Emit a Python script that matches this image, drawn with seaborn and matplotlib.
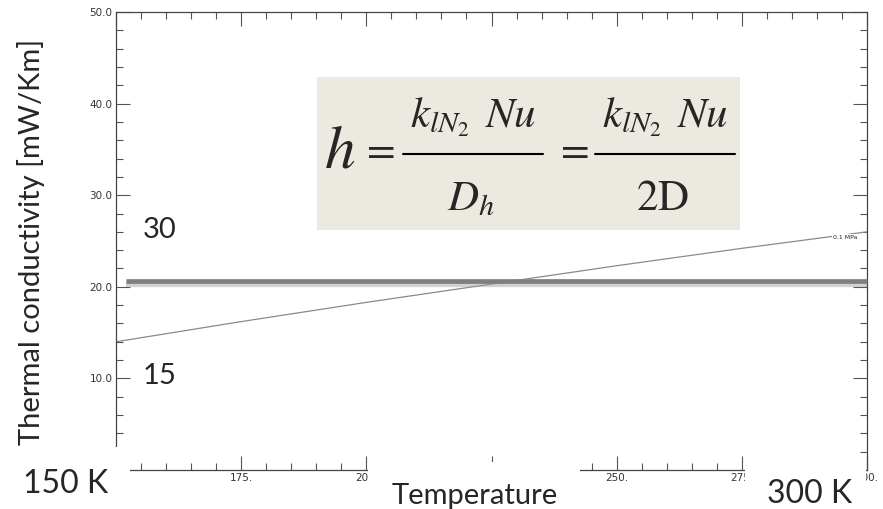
import matplotlib
matplotlib.use('Agg')
import matplotlib.pyplot as plt
import matplotlib.patheffects as pe
from matplotlib.patches import Rectangle
from matplotlib.lines import Line2D
from matplotlib.ticker import MultipleLocator, FuncFormatter
import seaborn as sns

# values (N2 gas at 0.1 MPa)
temperature_k = [150, 175, 200, 225, 250, 275, 300]
conductivity = [14.0, 16.2, 18.3, 20.3, 22.3, 24.2, 26.0]
series_label = '0.1 MPa'

# thick grey marker line across the plot
marker_level = 20.6
marker_span = [152, 300]

# slide annotations
label_30 = '30'
label_15 = '15'
label_tmin = '150 K'
label_tmax = '300 K'
x_title = 'Temperature'
y_title = 'Thermal conductivity [mW/Km]'
# h = k Nu / D_h = k Nu / 2D, drawn piece by piece like the slide's equation
eq_lhs = r'$h$'
eq_num = r'$k_{lN_{2}}\;\,Nu$'
eq_den1 = r'$D_h$'
eq_den2 = r'$2\mathrm{D}$'

W, H = 883, 509


def fx(px):
    return px / W


def fy(py):
    return 1 - py / H


sns.set_theme(style='ticks')
plt.rcParams['font.family'] = ['Lato', 'DejaVu Sans']
plt.rcParams['mathtext.fontset'] = 'stix'

fig = plt.figure(figsize=(W / 100, H / 100), dpi=100)
ax = fig.add_axes([fx(116), fy(470), fx(867) - fx(116), fy(12) - fy(470)])

sns.lineplot(x=temperature_k, y=conductivity, ax=ax, color='#8a8a8a', linewidth=0.9)
ax.text(295.6, 25.4, series_label, fontsize=4.5, family='DejaVu Sans', color='#222',
        ha='center', va='center',
        bbox=dict(facecolor='white', edgecolor='none', pad=0.3))

ax.plot(marker_span, [marker_level, marker_level], color='#7f7f7f', linewidth=3.4,
        solid_capstyle='butt', clip_on=False, zorder=4,
        path_effects=[pe.SimpleLineShadow(offset=(0, -2.2), shadow_color='#9a9a9a',
                                          alpha=0.45, linewidth=4.5),
                      pe.Normal()])

ax.set_xlim(150, 300)
ax.set_ylim(0, 50)
ax.xaxis.set_major_locator(MultipleLocator(25))
ax.xaxis.set_minor_locator(MultipleLocator(5))
ax.yaxis.set_major_locator(MultipleLocator(10))
ax.yaxis.set_minor_locator(MultipleLocator(2))
# the first labels of each axis sit under the slide's white text boxes
ax.xaxis.set_major_formatter(FuncFormatter(lambda v, p: '' if v <= 150 else f'{v:.0f}.'))
ax.yaxis.set_major_formatter(FuncFormatter(lambda v, p: '' if v <= 0 else f'{v:.1f}'))
ax.tick_params(which='both', direction='in', top=True, right=True,
               color='#555', width=0.8, labelsize=7.5, labelcolor='#333')
ax.tick_params(which='major', length=10, pad=2.5)
ax.tick_params(which='minor', length=5)
for lab in ax.get_xticklabels() + ax.get_yticklabels():
    lab.set_family('DejaVu Sans')
for s in ax.spines.values():
    s.set_color('#444')
    s.set_linewidth(0.9)
ax.set_xlabel('')
ax.set_ylabel('')

# white text boxes of the slide that sit over the axis
for x0, y0, x1, y1 in [(0, 447, 130, 509), (368, 462, 580, 509), (745, 462, 866, 509)]:
    fig.add_artist(Rectangle((fx(x0), fy(y1)), fx(x1) - fx(x0), fy(y0) - fy(y1),
                             transform=fig.transFigure, facecolor='white',
                             edgecolor='none', zorder=5))

# formula panel
fig.add_artist(Rectangle((fx(317), fy(230)), fx(740) - fx(317), fy(77) - fy(230),
                         transform=fig.transFigure, facecolor='#ECE9E0',
                         edgecolor='none', zorder=5))
fig.text(fx(324), fy(167), eq_lhs, fontsize=44, ha='left', va='baseline', zorder=6)
for cx in (377, 571):
    fig.text(fx(cx), fy(161), r'$=$', fontsize=30, ha='center', va='baseline', zorder=6)
for x0, x1, den in [(403, 543, eq_den1), (595, 735, eq_den2)]:
    cx = (x0 + x1) / 2
    fig.add_artist(Line2D([fx(x0), fx(x1)], [fy(154), fy(154)], transform=fig.transFigure,
                          color='black', linewidth=1.5, zorder=6))
    fig.text(fx(cx), fy(127), eq_num, fontsize=31, ha='center', va='baseline', zorder=6)
    fig.text(fx(cx - 2), fy(210), den, fontsize=31, ha='center', va='baseline', zorder=6)

fig.text(fx(160), fy(238), label_30, fontsize=21, ha='center', va='baseline', zorder=6)
fig.text(fx(160), fy(384), label_15, fontsize=21, ha='center', va='baseline', zorder=6)
fig.text(fx(66), fy(493), label_tmin, fontsize=23, ha='center', va='baseline', zorder=6)
fig.text(fx(810), fy(503), label_tmax, fontsize=23, ha='center', va='baseline', zorder=6)
fig.text(fx(475), fy(504), x_title, fontsize=21, ha='center', va='baseline', zorder=6)
fig.text(fx(31), fy(242), y_title, fontsize=21, rotation=90, ha='center', va='center',
         zorder=6)

fig.savefig('out.png', dpi=100, facecolor='white')
